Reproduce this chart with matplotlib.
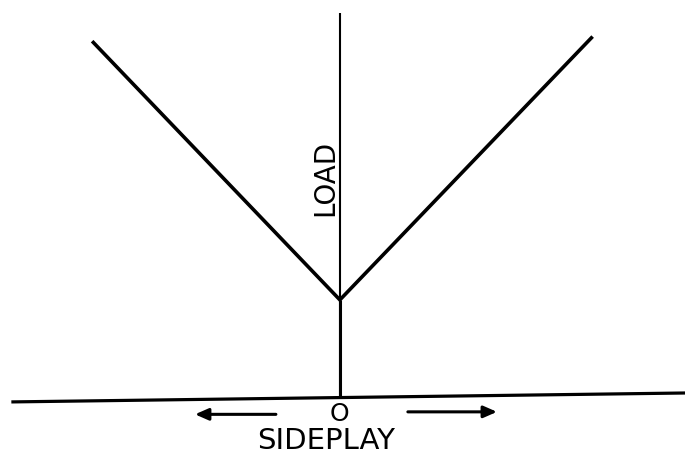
import numpy as np
import matplotlib.pyplot as plt

# V-shaped load vs sideplay curve
sideplay = [-0.99, 0.0, 1.01]
load = [1.0, 0.276, 1.013]

# axes drawn by hand
load_axis_top = 1.083
base_x = [-1.313, 1.381]
base_y = [-0.011, 0.014]

# arrows under the base line (tail, tip, height)
left_arrow = [-0.257, -0.582, -0.046]
right_arrow = [0.273, 0.631, -0.039]

fig = plt.figure(figsize=(6.85, 4.57), dpi=100)
ax = fig.add_axes([0, 0, 1, 1])
ax.set_xlim(-1.365, 1.386)
ax.set_ylim(-0.166, 1.1195)
ax.axis("off")

# load axis
ax.plot([0, 0], [0, load_axis_top], color="black", lw=1.5, solid_capstyle="butt")
ax.plot([0, 0], [0, load[1]], color="black", lw=2.2, solid_capstyle="butt")

# base line
ax.plot(base_x, base_y, color="black", lw=2.3)

# the curve
ax.plot(sideplay, load, color="black", lw=2.6, solid_joinstyle="miter")

# arrows
for a in [left_arrow, right_arrow]:
    ax.annotate("", xy=(a[1], a[2]), xytext=(a[0], a[2]),
                arrowprops=dict(arrowstyle="-|>,head_length=0.8,head_width=0.35",
                                lw=2.2, color="black", shrinkA=0, shrinkB=0))

ax.text(0, -0.044, "O", fontsize=18, ha="center", va="center")
ax.text(-0.056, -0.143, "SIDEPLAY", fontsize=21, ha="center", va="baseline")
ax.text(-0.060, 0.619, "LOAD", fontsize=20, rotation=90, ha="center", va="center")

plt.savefig("out.png", dpi=100)
